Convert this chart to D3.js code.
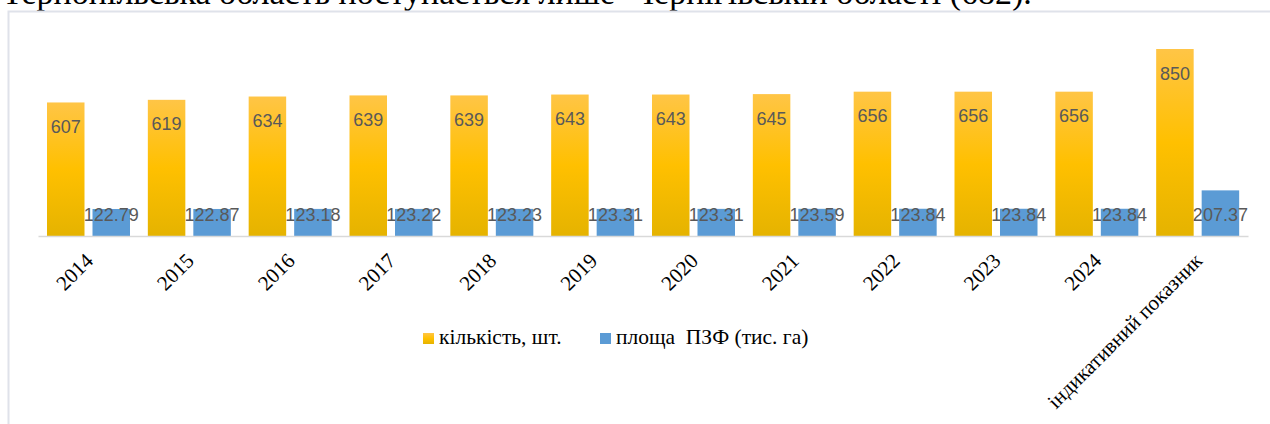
<!DOCTYPE html>
<html>
<head>
<meta charset="utf-8">
<script src="https://cdn.jsdelivr.net/npm/d3@7/dist/d3.min.js"></script>
<style>
  html, body { margin: 0; padding: 0; background: #fff; overflow: hidden; }
  svg { display: block; }
  .serif { font-family: "Liberation Serif", "Times New Roman", serif; }
  .sans { font-family: "Liberation Sans", Arial, sans-serif; }
</style>
</head>
<body>
<svg id="chart" width="1270" height="424"></svg>
<script>
// Protected areas of the region: count of objects and area (thousand ha)
const categories = ["2014", "2015", "2016", "2017", "2018", "2019", "2020", "2021", "2022", "2023", "2024", "індикативний показник"];
const countValues = [607, 619, 634, 639, 639, 643, 643, 645, 656, 656, 656, 850];
const areaValues = [122.79, 122.87, 123.18, 123.22, 123.23, 123.31, 123.31, 123.59, 123.84, 123.84, 123.84, 207.37];
const seriesNames = ["кількість, шт.", "площа  ПЗФ (тис. га)"];
const headingText = "Тернопільська область поступається лише  Чернігівській області (682).";

const svg = d3.select("#chart");

// gradients for the two series
const defs = svg.append("defs");
const gOrange = defs.append("linearGradient").attr("id", "gradOrange")
  .attr("x1", 0).attr("y1", 0).attr("x2", 0).attr("y2", 1);
gOrange.append("stop").attr("offset", "0%").attr("stop-color", "#ffc546");
gOrange.append("stop").attr("offset", "50%").attr("stop-color", "#ffc000");
gOrange.append("stop").attr("offset", "100%").attr("stop-color", "#e5b300");

const seriesFill = ["url(#gradOrange)", "#5b9bd5"];

// paragraph text above the chart frame
svg.append("text")
  .attr("class", "serif")
  .attr("x", 2).attr("y", 4)
  .style("font-size", "34px")
  .attr("fill", "#000")
  .style("white-space", "pre")
  .text(headingText);

// chart frame
svg.append("path")
  .attr("d", "M8.5,430 L8.5,11.5 L1280,11.5")
  .attr("fill", "none")
  .attr("stroke", "#dfe2ea")
  .attr("stroke-width", 2);

const x0 = d3.scaleBand().domain(categories).range([38, 1248]).paddingInner(0).paddingOuter(0);
const x1 = d3.scaleBand().domain([0, 1]).range([9, 92]).paddingInner(0.1758).paddingOuter(0);
const y = d3.scaleLinear().domain([0, 1000]).range([236, 16]);

const rows = categories.map((c, i) => ({ cat: c, vals: [countValues[i], areaValues[i]] }));

const groups = svg.append("g").selectAll("g")
  .data(rows).join("g")
  .attr("transform", d => `translate(${x0(d.cat)},0)`);

groups.selectAll("rect")
  .data(d => d.vals.map((v, s) => ({ v, s })))
  .join("rect")
  .attr("x", d => x1(d.s))
  .attr("width", x1.bandwidth())
  .attr("y", d => y(d.v))
  .attr("height", d => y(0) - y(d.v))
  .attr("fill", d => seriesFill[d.s]);

// value labels: count at inside end, area at inside base
groups.selectAll("text.val")
  .data(d => d.vals.map((v, s) => ({ v, s })))
  .join("text")
  .attr("class", "val sans")
  .attr("x", d => x1(d.s) + x1.bandwidth() / 2)
  .attr("y", d => d.s === 0 ? y(d.v) + 30.5 : y(0) - 15.5)
  .attr("text-anchor", "middle")
  .style("font-size", "18px")
  .attr("fill", "#595959")
  .text(d => d.s === 0 ? d3.format("d")(d.v) : d3.format(".2f")(d.v));

// category axis
const axis = d3.axisBottom(x0).tickSize(0).tickSizeOuter(0);
const axisG = svg.append("g").attr("transform", `translate(0,${y(0)})`).call(axis);
axisG.attr("font-family", null).attr("font-size", null);
axisG.select(".domain").attr("stroke", "#d9d9d9").attr("stroke-width", 1.5);
axisG.selectAll(".tick text")
  .attr("class", "serif")
  .style("font-size", "21px")
  .attr("fill", "#000")
  .attr("text-anchor", "end")
  .attr("dy", 0)
  .attr("y", 0)
  .attr("transform", "translate(6,26) rotate(-45)");

// legend
const legend = svg.append("g");
const legendX = [423, 600];
seriesNames.forEach((name, i) => {
  legend.append("rect")
    .attr("x", legendX[i]).attr("y", 333)
    .attr("width", 11).attr("height", 11)
    .attr("fill", seriesFill[i]);
  legend.append("text")
    .attr("class", "serif")
    .attr("x", legendX[i] + 16).attr("y", 344)
    .style("font-size", "21.5px")
    .attr("fill", "#000")
    .style("white-space", "pre")
    .text(name);
});
</script>
</body>
</html>
